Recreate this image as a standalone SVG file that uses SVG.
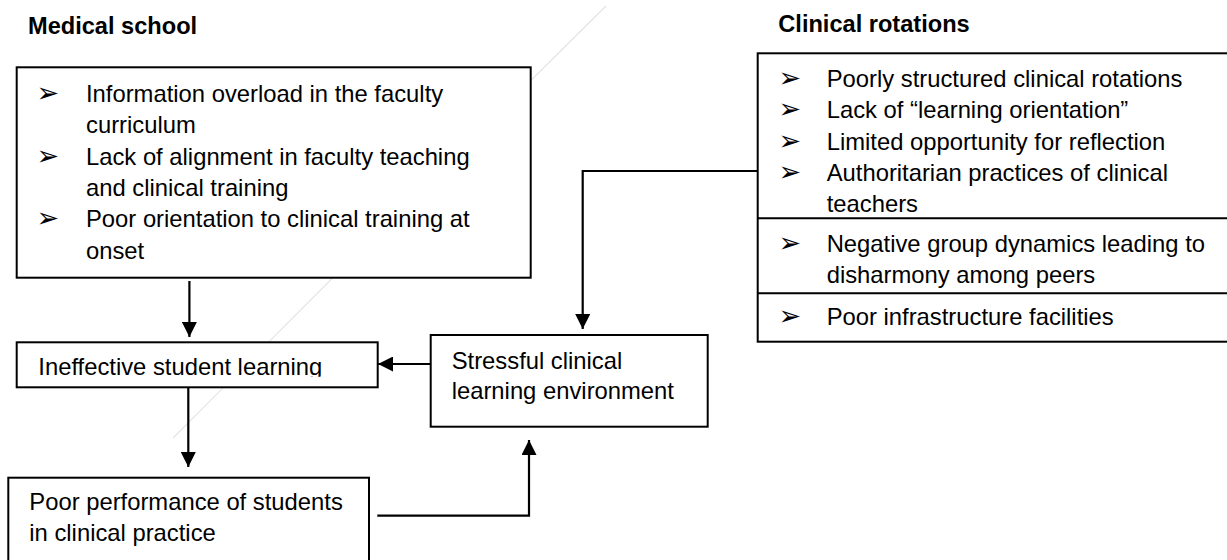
<svg xmlns="http://www.w3.org/2000/svg" width="1227" height="560" viewBox="0 0 1227 560">
  <style>
    .box { fill: #ffffff; stroke: #000000; stroke-width: 2; }
    .div { stroke: #000000; stroke-width: 2; fill: none; }
    .t { font-family: "Liberation Sans", Arial, sans-serif; font-size: 23.8px; fill: #000000; }
    .h { font-family: "Liberation Sans", Arial, sans-serif; font-size: 23.6px; font-weight: bold; fill: #000000; }
    .b { font-family: "DejaVu Sans", sans-serif; font-size: 27px; fill: #000000; }
    .c { stroke: #000000; stroke-width: 2.2; fill: none; }
  </style>
  <defs>
    <marker id="arr" markerUnits="userSpaceOnUse" markerWidth="15" markerHeight="15" refX="15" refY="7.5" orient="auto" viewBox="0 0 15 15">
      <path d="M0,0 L15,7.5 L0,15 z" fill="#000000"/>
    </marker>
    <clipPath id="clipIneff">
      <rect x="18" y="343" width="358" height="33.8"/>
    </clipPath>
  </defs>
  <rect width="1227" height="560" fill="#ffffff"/>

  <!-- faint background arc -->
  <path d="M606,6 Q400,210 173,438" stroke="#e4e4e4" stroke-width="1.2" fill="none"/>

  <text class="h" x="28" y="34">Medical school</text>
  <text class="h" x="778.3" y="31.7">Clinical rotations</text>

  <g id="medical-school">
    <rect class="box" x="16.7" y="67.3" width="514" height="210.4"/>
    <text class="b" x="36.5" y="102">➢</text>
    <text class="t" x="86" y="102">Information overload in the faculty</text>
    <text class="t" x="86" y="133.3">curriculum</text>
    <text class="b" x="36.5" y="164.6">➢</text>
    <text class="t" x="86" y="164.6">Lack of alignment in faculty teaching</text>
    <text class="t" x="86" y="195.9">and clinical training</text>
    <text class="b" x="36.5" y="227.2">➢</text>
    <text class="t" x="86" y="227.2">Poor orientation to clinical training at</text>
    <text class="t" x="86" y="258.5">onset</text>
  </g>

  <g id="clinical-rotations">
    <rect class="box" x="757.7" y="53.3" width="482" height="288.4"/>
    <line class="div" x1="757.7" y1="218.3" x2="1240" y2="218.3"/>
    <line class="div" x1="757.7" y1="293.3" x2="1240" y2="293.3"/>
    <text class="b" x="778.5" y="87">➢</text>
    <text class="t" x="826.7" y="87">Poorly structured clinical rotations</text>
    <text class="b" x="778.5" y="118.3">➢</text>
    <text class="t" x="826.7" y="118.3">Lack of “learning orientation”</text>
    <text class="b" x="778.5" y="149.6">➢</text>
    <text class="t" x="826.7" y="149.6">Limited opportunity for reflection</text>
    <text class="b" x="778.5" y="180.9">➢</text>
    <text class="t" x="826.7" y="180.9">Authoritarian practices of clinical</text>
    <text class="t" x="826.7" y="212.2">teachers</text>
    <text class="b" x="778.5" y="251.7">➢</text>
    <text class="t" x="826.7" y="251.7">Negative group dynamics leading to</text>
    <text class="t" x="826.7" y="283">disharmony among peers</text>
    <text class="b" x="778.5" y="325">➢</text>
    <text class="t" x="826.7" y="325">Poor infrastructure facilities</text>
  </g>

  <g id="ineffective-learning">
    <rect class="box" x="16.7" y="342.3" width="361" height="45"/>
    <text class="t" x="38.3" y="375" clip-path="url(#clipIneff)">Ineffective student learning</text>
  </g>

  <g id="stressful-environment">
    <rect class="box" x="430.7" y="335" width="277" height="91.7"/>
    <text class="t" x="451.7" y="368.5">Stressful clinical</text>
    <text class="t" x="451.7" y="399">learning environment</text>
  </g>

  <g id="poor-performance">
    <rect class="box" x="8.3" y="477.7" width="360.7" height="95"/>
    <text class="t" x="29.3" y="510">Poor performance of students</text>
    <text class="t" x="29.3" y="540.8">in clinical practice</text>
  </g>

  <g id="connectors">
    <path class="c" d="M189.4,281 V337" marker-end="url(#arr)"/>
    <path class="c" d="M188.3,387.3 V467" marker-end="url(#arr)"/>
    <path class="c" d="M430.7,364 H378" marker-end="url(#arr)"/>
    <path class="c" d="M757.7,171 H582.7 V329" marker-end="url(#arr)"/>
    <path class="c" d="M377.3,515.7 H529 V440" marker-end="url(#arr)"/>
  </g>
</svg>
